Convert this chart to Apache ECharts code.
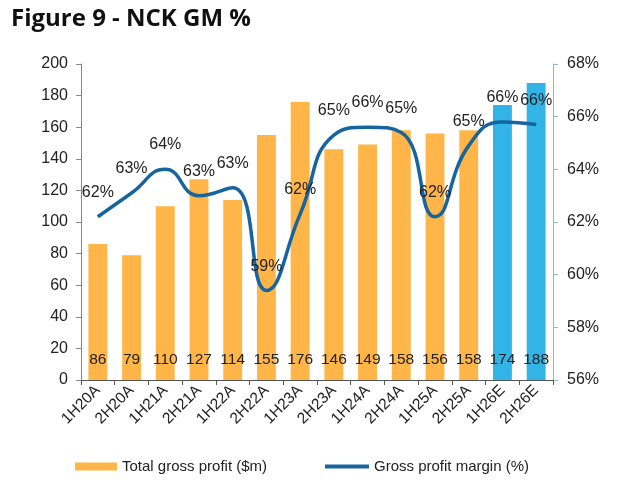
<!DOCTYPE html>
<html lang="en">
<head>
<meta charset="UTF-8">
<script src="https://cdn.jsdelivr.net/npm/echarts@6/dist/echarts.min.js"></script>
<title>Figure 9 - NCK GM %</title>
<style>
    html, body { margin: 0; padding: 0; background: #fff; }
    #chart { width: 629px; height: 484px; }
</style>
</head>
<body>
<div id="chart"></div>
<script>
// half-year periods, A = actual, E = estimate
const categories = ['1H20A', '2H20A', '1H21A', '2H21A', '1H22A', '2H22A', '1H23A',
    '2H23A', '1H24A', '2H24A', '1H25A', '2H25A', '1H26E', '2H26E'];
const grossProfit = [86, 79, 110, 127, 114, 155, 176, 146, 149, 158, 156, 158, 174, 188];
const grossMargin = [62.2, 63.1, 64.0, 63.0, 63.3, 59.4, 62.3, 65.3, 65.6, 65.4, 62.2, 64.9, 65.8, 65.7];
const leftTicks = { min: 0, max: 200, step: 20 };
const rightTicks = { min: 56, max: 68, step: 2 };

const orange = '#FFB547';
const blue = '#33B4E6';
const lineBlue = '#17659F';

const chart = echarts.init(document.getElementById('chart'));

const barData = grossProfit.map((v, i) => ({
    value: v,
    itemStyle: { color: categories[i].endsWith('E') ? blue : orange }
}));

chart.setOption({
    animation: false,
    textStyle: { fontFamily: 'Liberation Sans, Arial, sans-serif' },
    title: {
        text: 'Figure 9 - NCK GM %',
        left: 6,
        top: 2,
        textStyle: { fontFamily: 'Open Sans, sans-serif', fontWeight: 700, fontSize: 24, color: '#111' }
    },
    legend: [
        {
            data: [{ name: 'Total gross profit ($m)', icon: 'rect' }],
            left: 70, top: 454,
            itemWidth: 42, itemHeight: 8,
            textStyle: { fontSize: 15, color: '#222' }
        },
        {
            data: [{ name: 'Gross profit margin (%)', icon: 'rect' }],
            left: 320, top: 454,
            itemWidth: 44, itemHeight: 4,
            textStyle: { fontSize: 15, color: '#222' }
        }
    ],
    grid: { left: 81, right: 76, top: 64, bottom: 104, containLabel: false },
    xAxis: {
        type: 'category',
        data: categories,
        axisLine: { lineStyle: { color: '#555' } },
        axisTick: { show: true, interval: 0, length: 5, lineStyle: { color: '#555' } },
        axisLabel: { interval: 0, rotate: 45, fontSize: 15.5, color: '#222', margin: 8 }
    },
    yAxis: [
        {
            type: 'value',
            min: leftTicks.min, max: leftTicks.max, interval: leftTicks.step,
            splitLine: { show: false },
            axisLine: { show: true, lineStyle: { color: '#888' } },
            axisTick: { show: true, length: 5, lineStyle: { color: '#888' } },
            axisLabel: { fontSize: 16, color: '#222', margin: 13 }
        },
        {
            type: 'value',
            min: rightTicks.min, max: rightTicks.max, interval: rightTicks.step,
            splitLine: { show: false },
            axisLine: { show: true, lineStyle: { color: '#8DB7DA' } },
            axisTick: { show: true, length: 5, lineStyle: { color: '#8DB7DA' } },
            axisLabel: { fontSize: 16, color: '#222', margin: 14, formatter: '{value}%' }
        }
    ],
    series: [
        {
            name: 'Total gross profit ($m)',
            type: 'bar',
            data: barData,
            barWidth: '56%',
            itemStyle: { color: orange },
            label: {
                show: true,
                position: 'insideBottom',
                distance: 12,
                fontSize: 15.5,
                color: '#222'
            }
        },
        {
            name: 'Gross profit margin (%)',
            type: 'line',
            yAxisIndex: 1,
            data: grossMargin,
            smooth: 0.5,
            symbol: 'circle',
            symbolSize: 0.5,
            showSymbol: true,
            itemStyle: { color: lineBlue },
            lineStyle: { width: 3.5, color: lineBlue },
            label: {
                show: true,
                position: 'top',
                distance: 16,
                fontSize: 16,
                color: '#222',
                formatter: p => Math.round(p.value) + '%'
            },
            labelLayout: { hideOverlap: false },
            z: 5
        }
    ]
});
</script>
</body>
</html>
